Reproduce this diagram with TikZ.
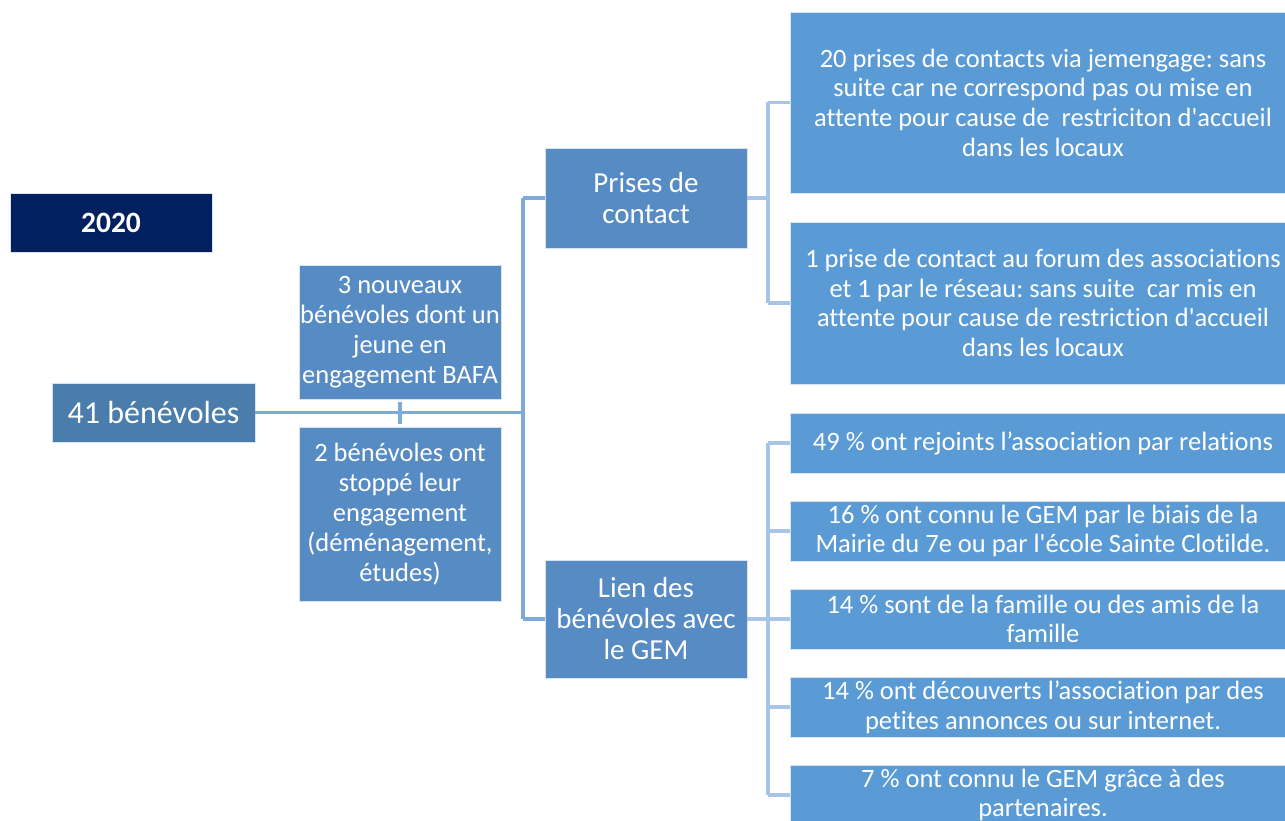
\documentclass[tikz,border=0pt]{standalone}
\usepackage{fontspec}
\newfontfamily\carl{Carlito}[Ligatures=NoCommon]
\definecolor{navy}{HTML}{002060}
\definecolor{darkbox}{HTML}{4A7DAB}
\definecolor{midbox}{HTML}{568BC3}
\definecolor{rightbox}{HTML}{5B9BD5}
\definecolor{boxedge}{HTML}{D6E3F2}
\definecolor{mainline}{HTML}{7EA9DB}
\definecolor{brline}{HTML}{A8C4E6}
\begin{document}
\frenchspacing
\begin{tikzpicture}[x=1pt,y=-1pt,
  box/.style={rectangle, draw=boxedge, line width=0.7pt, text=white, align=center, inner sep=0pt},
  fr/.style={font=\carl\fontsize{26.5}{29.6}\selectfont},
  fm/.style={font=\carl\fontsize{26.5}{30}\selectfont},
  fb/.style={font=\carl\fontsize{29}{31}\selectfont},
  conn/.style={draw=mainline, line width=3.2pt},
  brk/.style={draw=brline, line width=3.2pt}]
\clip (0,0) rectangle (1285,821);
\fill[white] (0,0) rectangle (1285,821);
% left side
\node[box, fill=navy, minimum width=202pt, minimum height=59pt, font=\carl\bfseries\fontsize{29.5}{31}\selectfont] (y2020) at (111,222.5) {2020};
\node[box, fill=darkbox, minimum width=203pt, minimum height=59pt, font=\carl\fontsize{32}{36}\selectfont] (b41) at (153.5,412.5) {41 bénévoles};
\node[box, fill=midbox, fm, minimum width=202pt, minimum height=134pt] (nouv) at (400,332) {3 nouveaux\\bénévoles dont un\\jeune en\\engagement BAFA};
\node[box, fill=midbox, fm, minimum width=202pt, minimum height=174pt] (deux) at (400,514) {2 bénévoles ont\\stoppé leur\\engagement\\(déménagement,\\études)};
\node[box, fill=midbox, fb, minimum width=202pt, minimum height=100pt] (prises) at (646,198) {Prises de\\contact};
\node[box, fill=midbox, fb, minimum width=202pt, minimum height=118pt] (lien) at (646,619) {Lien des\\bénévoles avec\\le GEM};
% right side
\node[box, fill=rightbox, fr, minimum width=506pt, minimum height=181pt] (ra) at (1043,102.5) {20 prises de contacts via jemengage: sans\\suite car ne correspond pas ou mise en\\attente pour cause de~ restriciton d'accueil\\dans les locaux};
\node[box, fill=rightbox, fr, minimum width=506pt, minimum height=162pt] (rb) at (1043,303) {1 prise de contact au forum des associations\\et 1 par le réseau: sans suite~ car mis en\\attente pour cause de restriction d'accueil\\dans les locaux};
\node[box, fill=rightbox, fr, minimum width=506pt, minimum height=60pt] (l1) at (1043,443) {49 \% ont rejoints l’association par relations};
\node[box, fill=rightbox, fr, minimum width=506pt, minimum height=60pt] (l2) at (1043,531) {16 \% ont connu le GEM par le biais de la\\Mairie du 7e ou par l'école Sainte Clotilde.};
\node[box, fill=rightbox, fr, minimum width=506pt, minimum height=60pt] (l3) at (1043,619) {14 \% sont de la famille ou des amis de la\\famille};
\node[box, fill=rightbox, fr, minimum width=506pt, minimum height=60pt] (l4) at (1043,707) {14 \% ont découverts l’association par des\\petites annonces ou sur internet.};
\node[box, fill=rightbox, fr, minimum width=506pt, minimum height=60pt] (l5) at (1043,795) {7 \% ont connu le GEM grâce à des\\partenaires.};
% connectors
\coordinate (j1) at (523,412.5);
\coordinate (j2) at (768,198);
\coordinate (j3) at (768,619);
\draw[conn] (b41.east) -- (j1);
\draw[conn] ([yshift=-3pt]nouv.south) -- ([yshift=3pt]deux.north);
\draw[conn] (j1 |- prises.west) -- (j1 |- lien.west);
\draw[conn] (j1 |- prises.west) -- (prises.west);
\draw[conn] (j1 |- lien.west) -- (lien.west);
\draw[brk] (prises.east) -- (j2);
\draw[brk] (j2 |- ra.west) -- (j2 |- rb.west);
\draw[brk] (j2 |- ra.west) -- (ra.west);
\draw[brk] (j2 |- rb.west) -- (rb.west);
\draw[brk] (lien.east) -- (j3);
\draw[brk] (j3 |- l1.west) -- (j3 |- l5.west);
\foreach \n in {l1,l2,l3,l4,l5} \draw[brk] (j3 |- \n.west) -- (\n.west);
\end{tikzpicture}
\end{document}
